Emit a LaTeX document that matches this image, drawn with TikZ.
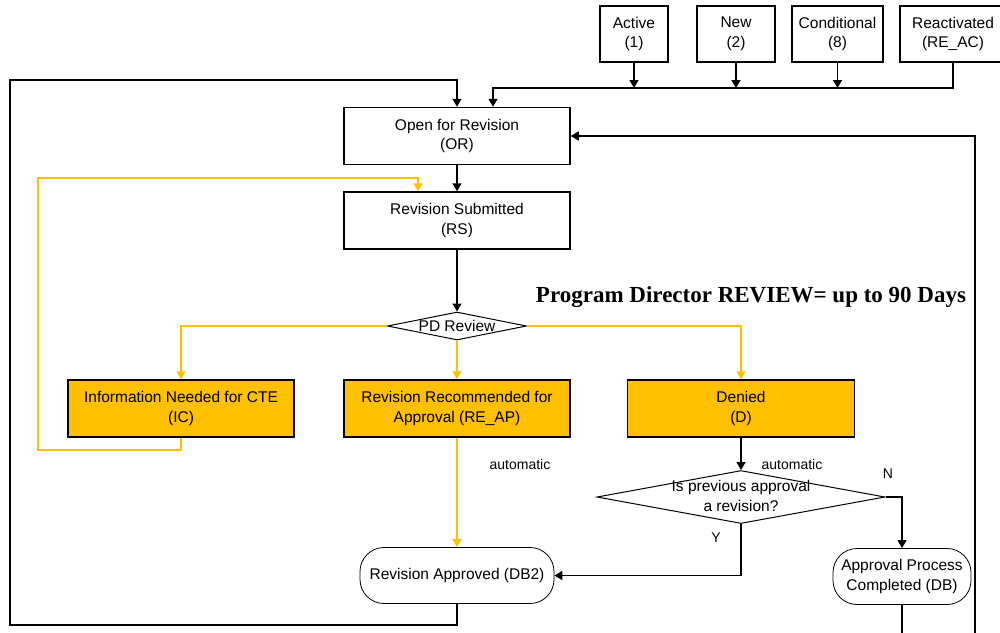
\documentclass[tikz,border=0pt]{standalone}
\usepackage{fontspec}
\setmainfont{Liberation Sans}
\newfontfamily\titlefont{Liberation Serif}
\usetikzlibrary{shapes.geometric,arrows.meta,calc}
\definecolor{gold}{HTML}{FFC000}
\begin{document}
\begin{tikzpicture}[x=1pt,y=-1pt,
  every node/.style={font=\fontsize{15.5}{19.5}\selectfont},
  box/.style={draw, line width=1.5pt, minimum width=226pt, minimum height=57pt, align=center, inner sep=0pt},
  obox/.style={box, fill=gold},
  topbox/.style={draw, line width=1.5pt, minimum height=56pt, align=center, inner sep=0pt},
  term/.style={draw, line width=0.8pt, rounded corners=24pt, minimum height=56pt, align=center, inner sep=0pt},
  dia/.style={draw, diamond, line width=1pt, inner sep=0pt},
  blk/.style={line width=1.5pt, -{Triangle[width=9pt,length=8pt]}},
  yel/.style={draw=gold, line width=1.5pt, -{Triangle[width=9pt,length=8pt]}, gold},
  lbl/.style={font=\fontsize{14}{16}\selectfont}]
\useasboundingbox (0,0) rectangle (1000,632);

% top source boxes
\node[topbox, minimum width=68pt] (act) at (634,34) {Active\\(1)};
\node[topbox, minimum width=78pt] (new) at (736,34) {New\\(2)};
\node[topbox, minimum width=91pt] (cond) at (837.5,34) {Conditional\\(8)};
\node[topbox, minimum width=106pt] (react) at (953,34) {Reactivated\\(RE\_AC)};

% main column
\node[box] (or) at (457,136) {Open for Revision\\(OR)};
\node[box] (rs) at (457,220.5) {Revision Submitted\\(RS)};
\node[dia, minimum width=139pt, minimum height=28pt] (pd) at (457,326) {};
\node (pdt) at (pd) {PD Review};

\node[font=\titlefont\bfseries\fontsize{23}{25}\selectfont] (title) at (751,297) {Program Director REVIEW= up to 90 Days};

\node[obox] (ic) at (181,408.5) {Information Needed for CTE\\(IC)};
\node[obox] (reap) at (457,408.5) {Revision Recommended for\\Approval (RE\_AP)};
\node[obox, minimum width=227pt] (d) at (741,408.5) {Denied\\(D)};

\node[dia, minimum width=288pt, minimum height=53pt] (q) at (741,497) {};
\node[align=center] (qt) at (741,496) {Is previous approval\\a revision?};

\node[term, minimum width=194pt] (db2) at (457,575.5) {Revision Approved (DB2)};
\node[term, minimum width=138pt] (db) at (902,576.5) {Approval Process\\Completed (DB)};

\node[lbl] (auto1) at (520,464) {automatic};
\node[lbl] (auto2) at (792,464) {automatic};
\node[lbl] (nlab) at (888,474) {N};
\node[lbl] (ylab) at (716,538) {Y};

% coordinates
\coordinate (busL) at (493,88);
\coordinate (lb) at (10,625);
\coordinate (lt) at (10,80);
\coordinate (rb) at (975,650);
\coordinate (icl) at (38,450);
\coordinate (ict) at (418,178);

% black connectors
\foreach \n in {act,new,cond} \draw[blk] (\n.south) -- (\n.south |- busL);
\draw[blk] (react.south) |- (busL) -- (busL |- or.north);
\draw[blk] (db2.south) |- (lb) -- (lt) -| (or.north);
\draw[blk] (db.south) |- (rb) |- (or.east);
\draw[blk] (or.south) -- (rs.north);
\draw[blk] (rs.south) -- (pd.north);
\draw[blk] (d.south) -- (q.north);
\draw[blk] (q.south) |- (db2.east);
\draw[blk] (q.east) -| (db.north);

% yellow connectors
\draw[yel] (pd.west) -| (ic.north);
\draw[yel] (pd.south) -- (reap.north);
\draw[yel] (pd.east) -| (d.north);
\draw[yel] (ic.south) |- (icl) |- (ict) -- (ict |- rs.north);
\draw[yel] (reap.south) -- (reap.south |- db2.north);
\end{tikzpicture}
\end{document}
